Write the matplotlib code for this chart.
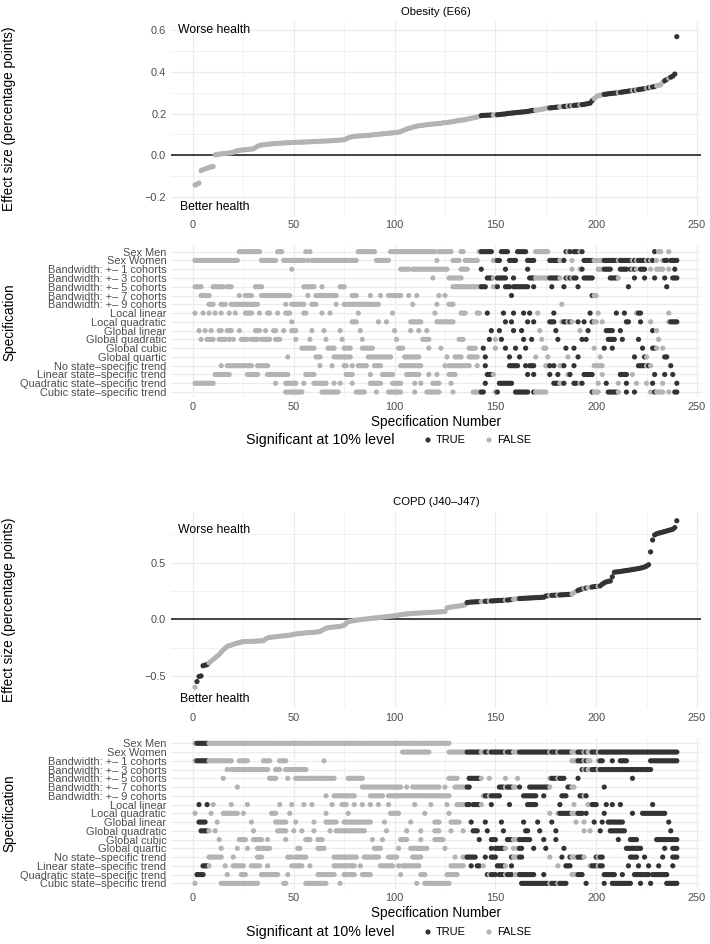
import numpy as np
import matplotlib
matplotlib.use("Agg")
import matplotlib.pyplot as plt

plt.rcParams['font.family'] = ['Liberation Sans', 'DejaVu Sans']

# ---- data ----------------------------------------------------------------

spec_labels = ["Sex Men", "Sex Women",
               "Bandwidth: +– 1 cohorts", "Bandwidth: +– 3 cohorts",
               "Bandwidth: +– 5 cohorts", "Bandwidth: +– 7 cohorts",
               "Bandwidth: +– 9 cohorts",
               "Local linear", "Local quadratic", "Global linear",
               "Global quadratic", "Global cubic", "Global quartic",
               "No state–specific trend", "Linear state–specific trend",
               "Quadratic state–specific trend", "Cubic state–specific trend"]

# sorted effect sizes, specification 1..240
obesity_effect = [
    -0.145, -0.140, -0.135, -0.075, -0.070, -0.067, -0.063, -0.060, -0.057, -0.055,
    0.001, 0.003, 0.004, 0.006, 0.007, 0.008, 0.009, 0.010, 0.011, 0.013,
    0.018, 0.021, 0.022, 0.024, 0.025, 0.026, 0.027, 0.028, 0.029, 0.030,
    0.036, 0.042, 0.046, 0.048, 0.050, 0.051, 0.052, 0.053, 0.054, 0.055,
    0.055, 0.056, 0.057, 0.057, 0.058, 0.059, 0.059, 0.060, 0.060, 0.061,
    0.061, 0.062, 0.062, 0.062, 0.063, 0.063, 0.063, 0.064, 0.064, 0.065,
    0.065, 0.066, 0.066, 0.067, 0.067, 0.068, 0.068, 0.069, 0.069, 0.070,
    0.071, 0.071, 0.072, 0.073, 0.074, 0.078, 0.082, 0.086, 0.089, 0.090,
    0.091, 0.092, 0.092, 0.093, 0.094, 0.094, 0.095, 0.096, 0.097, 0.098,
    0.099, 0.100, 0.101, 0.102, 0.103, 0.104, 0.105, 0.106, 0.107, 0.108,
    0.109, 0.110, 0.113, 0.117, 0.121, 0.125, 0.128, 0.131, 0.134, 0.137,
    0.139, 0.141, 0.142, 0.143, 0.145, 0.146, 0.147, 0.148, 0.149, 0.150,
    0.151, 0.152, 0.153, 0.155, 0.156, 0.157, 0.158, 0.160, 0.162, 0.163,
    0.165, 0.166, 0.168, 0.169, 0.171, 0.173, 0.175, 0.177, 0.179, 0.181,
    0.183, 0.186, 0.190, 0.191, 0.191, 0.192, 0.192, 0.193, 0.193, 0.194,
    0.194, 0.195, 0.196, 0.197, 0.198, 0.200, 0.201, 0.202, 0.203, 0.204,
    0.205, 0.206, 0.207, 0.208, 0.209, 0.210, 0.212, 0.214, 0.215, 0.216,
    0.217, 0.219, 0.220, 0.222, 0.225, 0.226, 0.227, 0.228, 0.229, 0.230,
    0.231, 0.232, 0.233, 0.234, 0.235, 0.236, 0.237, 0.238, 0.239, 0.240,
    0.241, 0.242, 0.243, 0.244, 0.246, 0.248, 0.250, 0.262, 0.272, 0.280,
    0.285, 0.288, 0.290, 0.292, 0.293, 0.295, 0.296, 0.297, 0.298, 0.299,
    0.300, 0.302, 0.303, 0.305, 0.306, 0.308, 0.309, 0.311, 0.312, 0.314,
    0.315, 0.317, 0.318, 0.320, 0.322, 0.324, 0.326, 0.328, 0.330, 0.334,
    0.336, 0.338, 0.350, 0.358, 0.364, 0.370, 0.375, 0.380, 0.390, 0.570]

obesity_significant = ("143-148 151-169 177-181 184-185 187 189-191 193-198 204-210 "
                       "212-217 219 221-224 226 228-229 234-235 237-240")

obesity_rows = [
    "23-33 42-44 56 58 82-90 98-120 122-128 133-134 142-148 153-156 161-165 170-176 185-187 189-193 229 231-232 236",
    "1-22 34-41 45-55 57 59-81 91-97 121 129-132 135-141 149-152 157-160 166-169 177-184 188 194-228 230 233-235 237-240",
    "49 103-107 109-126 133-136 143 155 166 188 192-193 201-207 212-215 217-220 222-224 227 230-233 236 239",
    "119 127-133 146-149 151-155 159 167-182 185-190 194-198 207-211 219 224 229 234 238-240",
    "1-4 10-15 17-19 31-34 55-60 64 73-75 129-145 149-151 155-157 159-166 169 178 184 191 216 235",
    "4-8 23 26-29 34-48 57 61-71 79-81 88 93 97-103 107 111 122 125 158 198-200",
    "8-10 14-16 19-32 46 49-55 59-61 71 75-92 109 121 127-129 183",
    "1 5 8 11 14 18 21 26-29 33 37-38 42 46-48 55-56 64 68 82 99 120 133-135 141-142 146 154 159 164 167 171 179 197 201 210 214 220-222 236",
    "49 79-81 92 96 108-113 121-129 155 158 166 169 177-179 183-188 191 194 198-200 203 215-216 222 227 236-240",
    "3 6 9 13-14 17-19 23 31-33 36 40-41 45 49-51 59 65 73 83 100 108 112 116 148 152 159 163 172 180 192 196 205-208 212 228 230",
    "4 7-10 13-16 18 20 24-27 29-32 34-38 41-43 51 58 66 74 84 101 114-117 132-134 147 150 153 164 168 173 181 193 195 206-209 213 221 231",
    "54-60 67-70 75-78 84-89 102-104 117 123 137-140 144 150 155 160 165 174-175 185 189 199 204 208 223 228-230 233",
    "47 61-63 70-78 87-98 105-112 126 130-133 137-141 145 157 162 170 176 186 191 202 219 224-225 234-235",
    "14 17-29 32-37 63 69 75-76 79 82-86 90-93 103-113 125 127-137 141 145 157-161 165 167-169 175-177 179 182-184 189 199-203 221-227 237",
    "11-18 27-32 37-47 56-60 76-79 88 94-99 106-112 117 121 127-130 146-149 166 169 177 181 186-187 194-198 203 212-215 218 229 234 238",
    "1-10 41 46-51 55 60-66 70 73 79 88-93 99-103 110 113 119-122 128 145 152-158 179-184 189-190 192-193 201 205 211 215 220 225 228 233 240",
    "46-54 64-72 81-85 91 97-103 110 116-122 129 139-144 150-151 160-166 169-175 198-201 206-211 215 219 227 229-233 236 239-240",
]

copd_effect = [
    -0.600, -0.550, -0.505, -0.500, -0.410, -0.405, -0.400, -0.385, -0.370, -0.355,
    -0.340, -0.325, -0.310, -0.290, -0.270, -0.255, -0.240, -0.232, -0.228, -0.222,
    -0.215, -0.210, -0.205, -0.200, -0.198, -0.197, -0.196, -0.195, -0.195, -0.194,
    -0.193, -0.192, -0.191, -0.190, -0.188, -0.175, -0.165, -0.160, -0.158, -0.156,
    -0.154, -0.152, -0.150, -0.148, -0.146, -0.144, -0.142, -0.140, -0.138, -0.132,
    -0.130, -0.128, -0.126, -0.124, -0.122, -0.120, -0.118, -0.117, -0.116, -0.115,
    -0.113, -0.111, -0.108, -0.098, -0.088, -0.080, -0.075, -0.072, -0.070, -0.068,
    -0.066, -0.064, -0.062, -0.058, -0.052, -0.035, -0.022, -0.018, -0.014, -0.011,
    -0.008, -0.005, -0.003, -0.001, 0.001, 0.003, 0.005, 0.007, 0.009, 0.011,
    0.013, 0.015, 0.017, 0.019, 0.021, 0.023, 0.025, 0.027, 0.029, 0.031,
    0.034, 0.037, 0.040, 0.043, 0.045, 0.047, 0.049, 0.050, 0.052, 0.053,
    0.054, 0.055, 0.056, 0.057, 0.058, 0.059, 0.060, 0.061, 0.062, 0.063,
    0.064, 0.065, 0.066, 0.067, 0.068, 0.100, 0.105, 0.108, 0.110, 0.112,
    0.115, 0.118, 0.120, 0.123, 0.128, 0.148, 0.150, 0.152, 0.153, 0.154,
    0.155, 0.156, 0.157, 0.158, 0.159, 0.160, 0.161, 0.162, 0.163, 0.164,
    0.165, 0.166, 0.167, 0.168, 0.169, 0.170, 0.172, 0.175, 0.177, 0.179,
    0.181, 0.183, 0.184, 0.185, 0.186, 0.187, 0.188, 0.189, 0.190, 0.191,
    0.192, 0.193, 0.194, 0.195, 0.205, 0.208, 0.210, 0.211, 0.212, 0.213,
    0.214, 0.215, 0.216, 0.217, 0.218, 0.219, 0.220, 0.222, 0.235, 0.245,
    0.255, 0.262, 0.268, 0.272, 0.276, 0.279, 0.282, 0.285, 0.288, 0.290,
    0.292, 0.295, 0.310, 0.322, 0.330, 0.335, 0.338, 0.375, 0.415, 0.418,
    0.420, 0.422, 0.425, 0.428, 0.430, 0.433, 0.436, 0.439, 0.442, 0.445,
    0.448, 0.452, 0.456, 0.462, 0.470, 0.482, 0.595, 0.700, 0.745, 0.755,
    0.760, 0.765, 0.770, 0.775, 0.780, 0.785, 0.790, 0.795, 0.810, 0.870]

copd_significant = ("2-7 136-142 145-146 148-154 156-158 162-176 178-180 182-187 "
                    "191-193 195 198-200 202-240")

copd_rows = [
    "1-127",
    "104-117 127-240",
    "1-19 23-27 35-38 43-46 65 188-197 201-203 208 212-215 227-240",
    "17 19-37 41-43 46-56 193-227",
    "15 38-41 47 51-70 77-84 127-131 137-143 147 155 161 177-184 191 218",
    "22 84-103 106 109-122 125 130-137 152-160 162 167-177 186-189 204",
    "66 70-80 88-94 97-127 144-152 164-170 174 183-185 192-195",
    "3 7 10 19 27 43 49 55 59 69 74-76 80 84 88 92 97 110 118 126 131-137 139-143 148 157 166-170 182 189 196 198-200 205 208 212 228",
    "1 9 15-22 25 39-41 48 66 77 98-102 115 127 177 181-193 195 204 218 223-234",
    "3-6 12 29 41-46 51 60 66-71 75-88 95 108 120-122 128-132 138 145 153 164 171 178 190 194 199 203 206-213 236",
    "4-8 11 30 42-46 50 54 60 68 71-85 96 106 113 120-122 128 134 139-141 146 154 165-166 172 180 194 197 202 207-214 237",
    "13 23-26 30-34 37 46 56-58 62-64 89 94 103-106 113 120-124 142 148-150 156-167 174 180 211 217-220 230-240",
    "14 22 27 32-38 52-53 62-65 90-93 102 108-116 125 148 150-155 159 161-163 169 175 184 215-222 234 238-240",
    "8-14 20 32-34 47-49 51-56 70-81 85-92 97-101 109-113 130 134-140 145 148-150 158-163 177 183 187-194 200-203 217-220 224 233 238-240",
    "5-8 16 20-25 29-33 37 49-54 58 70-80 83 93-99 102 104-112 128-134 138 141-142 144 151-155 158 181 185-187 197-203 216 221 226 231 238",
    "2-5 17 24-26 34-42 47 62-70 75-80 84-88 103 113-115 126-131 146-150 152-158 160-169 174 188-193 204-209 213 219-226 228-235",
    "1 14-32 45-46 56-66 73 111 115-127 163-185 195 204 208-217 222 227 235-240",
]

# ---- helpers ---------------------------------------------------------------

W, H = 710, 944
DARK = '#333333'
LIGHT = '#b3b3b3'
GRID = '#ebebeb'
TXT = '#4d4d4d'
X_LIM = (-10.95, 251.95)
AX_LEFT, AX_RIGHT = 170.9, 700.9
PT = 14


def parse_runs(text):
    idx = []
    for part in text.split():
        if '-' in part:
            a, b = part.split('-')
            idx.extend(range(int(a), int(b) + 1))
        else:
            idx.append(int(part))
    return np.array(sorted(set(idx)))


def px_axes(fig, top, bottom):
    return fig.add_axes([AX_LEFT / W, 1 - bottom / H,
                         (AX_RIGHT - AX_LEFT) / W, (bottom - top) / H])


def style_axes(ax):
    for s in ax.spines.values():
        s.set_visible(False)
    ax.set_xlim(*X_LIM)
    ax.set_xticks([0, 50, 100, 150, 200, 250])
    ax.set_xticks([25, 75, 125, 175, 225], minor=True)
    ax.tick_params(which='both', length=0, labelsize=7.9, labelcolor=TXT, pad=3.3)
    ax.grid(which='major', color=GRID, lw=0.8, zorder=0)
    ax.grid(which='minor', color=GRID, lw=0.45, zorder=0)
    ax.set_axisbelow(True)


def draw_curve(fig, top, bottom, effect, sig_text, ylim, yticks, yminor,
               worse_y, better_y, title):
    ax = px_axes(fig, top, bottom)
    style_axes(ax)
    x = np.arange(1, len(effect) + 1)
    sig = set(parse_runs(sig_text))
    cols = [DARK if i in sig else LIGHT for i in x]
    ax.axhline(0, color='#262626', lw=1.2, zorder=2)
    ax.scatter(x, effect, c=cols, s=PT, linewidths=0, zorder=3)
    ax.set_ylim(*ylim)
    ax.set_yticks(yticks)
    ax.set_yticklabels([f"{v:.1f}".replace('-', '−') for v in yticks])
    ax.set_yticks(yminor, minor=True)
    ax.text(-7.2, worse_y, "Worse health", fontsize=8.8, ha='left', va='center')
    ax.text(-6.6, better_y, "Better health", fontsize=8.8, ha='left', va='center')
    ax.set_title(title, fontsize=8.2, pad=5)
    return ax, sig


def draw_matrix(fig, top, bottom, rows, sig):
    ax = px_axes(fig, top, bottom)
    style_axes(ax)
    for r, text in enumerate(rows):
        idx = parse_runs(text)
        cols = [DARK if i in sig else LIGHT for i in idx]
        ax.scatter(idx, np.full(len(idx), r), c=cols, s=PT, linewidths=0, zorder=3)
    ax.set_ylim(len(rows) - 0.4, -0.6)
    ax.set_yticks(range(len(rows)))
    ax.set_yticklabels(spec_labels)
    return ax


def legend(fig, y):
    lay = fig.add_axes([0, 0, 1, 1], facecolor='none')
    lay.set_xlim(0, W)
    lay.set_ylim(H, 0)
    lay.axis('off')
    lay.text(246, y, "Significant at 10% level", fontsize=10.3, ha='left', va='center')
    lay.scatter([428, 489], [y, y], c=[DARK, LIGHT], s=PT, linewidths=0)
    lay.text(436, y, "TRUE", fontsize=7.9, ha='left', va='center')
    lay.text(497, y, "FALSE", fontsize=7.9, ha='left', va='center')


fig = plt.figure(figsize=(W / 100, H / 100), dpi=100)

# Obesity
ax1, sig1 = draw_curve(fig, 21.6, 215.8, obesity_effect, obesity_significant,
                       (-0.2925, 0.6425), [-0.2, 0.0, 0.2, 0.4, 0.6],
                       [-0.1, 0.1, 0.3, 0.5], 0.6, -0.25, "Obesity (E66)")
m1 = draw_matrix(fig, 246.4, 397.3, obesity_rows, sig1)

# COPD
ax2, sig2 = draw_curve(fig, 511.8, 708.2, copd_effect, copd_significant,
                       (-0.785, 0.949), [-0.5, 0.0, 0.5],
                       [-0.25, 0.25, 0.75], 0.79, -0.706, "COPD (J40–J47)")
m2 = draw_matrix(fig, 738.05, 888.6, copd_rows, sig2)

# axis titles
for yc in [118.7, 610.0]:
    fig.text(9 / W, 1 - yc / H, "Effect size (percentage points)", rotation=90,
             fontsize=9.85, ha='center', va='center')
for yc in [321.8, 813.3]:
    fig.text(9 / W, 1 - yc / H, "Specification", rotation=90,
             fontsize=9.85, ha='center', va='center')
for yc in [421.7, 913.3]:
    fig.text(436 / W, 1 - yc / H, "Specification Number",
             fontsize=9.85, ha='center', va='center')

legend(fig, 440)
legend(fig, 932)

fig.savefig("out.png", dpi=100)
